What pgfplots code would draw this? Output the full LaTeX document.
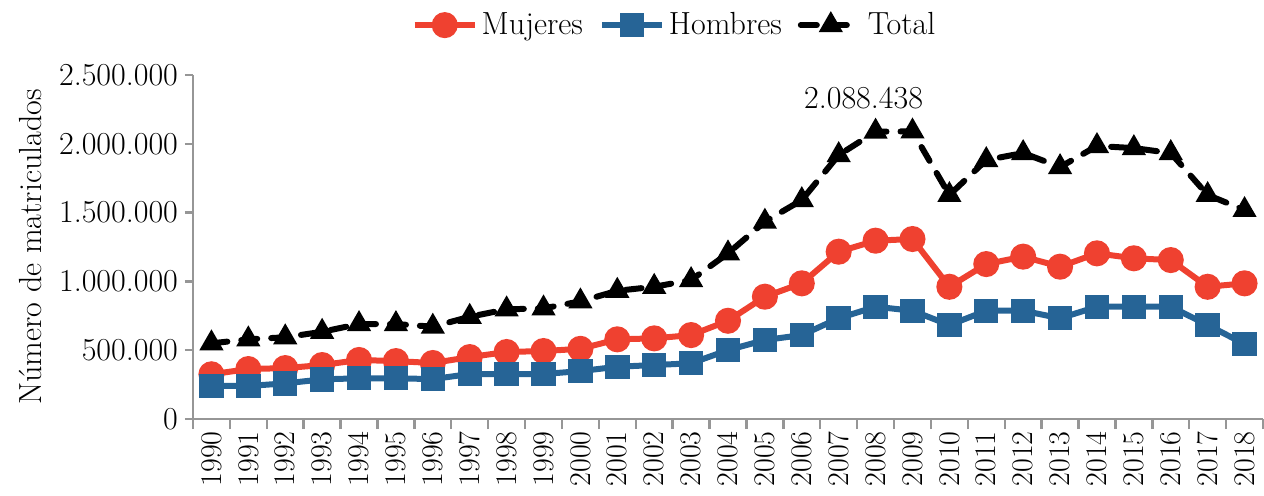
\documentclass[border=0pt]{standalone}
\usepackage{pgfplots}
\pgfplotsset{compat=1.18}
\definecolor{cred}{RGB}{239,65,48}
\definecolor{cblue}{RGB}{38,100,150}
\definecolor{axgray}{RGB}{150,150,150}
\begin{document}
\begin{tikzpicture}
\begin{axis}[
  at={(0,0)}, anchor=south west,
  scale only axis, width=535pt, height=172pt,
  xmin=-0.5, xmax=28.5, ymin=0, ymax=2500000,
  axis x line*=bottom, axis y line*=left,
  axis line style={axgray, line width=1.2pt},
  xtick={0,...,28},
  xticklabels={1990,1991,1992,1993,1994,1995,1996,1997,1998,1999,2000,2001,2002,2003,2004,2005,2006,2007,2008,2009,2010,2011,2012,2013,2014,2015,2016,2017,2018},
  major x tick style={draw=none},
  minor xtick={-0.5,0.5,...,28.5},
  minor tick length=5pt,
  minor x tick style={axgray, line width=1.2pt},
  x tick label style={rotate=90, anchor=east, font=\fontsize{15}{17}\selectfont, inner sep=1pt},
  xticklabel shift=1pt,
  ytick={0,500000,1000000,1500000,2000000,2500000},
  yticklabels={0,500.000,1.000.000,1.500.000,2.000.000,2.500.000},
  scaled y ticks=false,
  y tick label style={font=\fontsize{16}{18}\selectfont},
  ytick style={axgray, line width=1.2pt},
  major tick length=4pt,
  tick align=outside,
  ylabel={Número de matriculados},
  ylabel style={at={(axis description cs:-0.152,0.5)}, anchor=center, font=\fontsize{16}{18}\selectfont},
  legend style={at={(axis description cs:0.451,1.145)}, anchor=center, draw=none, fill=none,
    legend columns=-1, font=\fontsize{16}{18}\selectfont,
    /tikz/every even column/.append style={column sep=6pt}},
  legend image code/.code={
    \draw[#1] (0pt,0pt) -- (30pt,0pt);
    \draw[#1, solid] plot coordinates {(15pt,0pt)};
  },
]
\addplot[cred, line width=3pt, mark=*, mark size=5pt] coordinates {
(0,325000) (1,363000) (2,370000) (3,392000) (4,429000) (5,421000) (6,407000) (7,450000) (8,487000) (9,494000)
(10,510000) (11,579000) (12,586000) (13,610000) (14,714000) (15,889000) (16,986000) (17,1216000) (18,1296000) (19,1308000)
(20,961000) (21,1126000) (22,1180000) (23,1107000) (24,1204000) (25,1168000) (26,1155000) (27,961000) (28,986000)};
\addlegendentry{Mujeres}
\addplot[cblue, line width=3pt, mark=square*, mark size=4.6pt] coordinates {
(0,240000) (1,240000) (2,259000) (3,288000) (4,296000) (5,296000) (6,290000) (7,327000) (8,327000) (9,327000)
(10,348000) (11,380000) (12,392000) (13,405000) (14,501000) (15,574000) (16,610000) (17,732000) (18,816000) (19,787000)
(20,683000) (21,787000) (22,787000) (23,732000) (24,816000) (25,816000) (26,816000) (27,683000) (28,545000)};
\addlegendentry{Hombres}
\addplot[black, line width=3pt, line cap=round, dash pattern=on 8pt off 7pt, mark=triangle*, mark size=4pt, mark options={solid}] coordinates {
(0,550000) (1,579000) (2,594000) (3,634000) (4,690000) (5,690000) (6,671000) (7,743000) (8,797000) (9,804000)
(10,855000) (11,932000) (12,961000) (13,1010000) (14,1204000) (15,1434000) (16,1591000) (17,1918000) (18,2088438) (19,2090000)
(20,1628000) (21,1882000) (22,1933000) (23,1831000) (24,1984000) (25,1969000) (26,1933000) (27,1628000) (28,1519000)};
\addlegendentry{Total}
\node[above, font=\fontsize{16}{18}\selectfont, yshift=8pt, xshift=-6pt] at (axis cs:18,2088438) {2.088.438};
\end{axis}
\pgfresetboundingbox
\path[use as bounding box] (-96.5pt,-38pt) rectangle (535.5pt,209.5pt);
\end{tikzpicture}
\end{document}
